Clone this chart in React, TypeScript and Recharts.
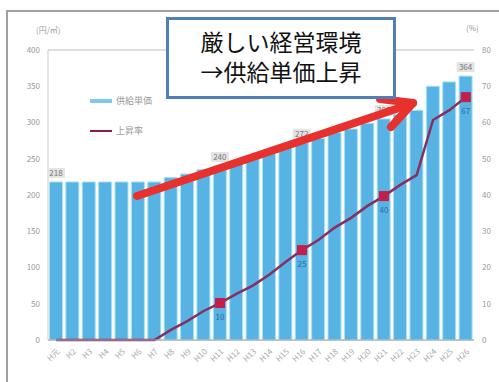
import { ComposedChart, Bar, Line, XAxis, YAxis, CartesianGrid, LabelList } from 'recharts';

const years = [
  'H元', 'H2', 'H3', 'H4', 'H5', 'H6', 'H7', 'H8', 'H9', 'H10', 'H11', 'H12', 'H13',
  'H14', 'H15', 'H16', 'H17', 'H18', 'H19', 'H20', 'H21', 'H22', 'H23', 'H24', 'H25', 'H26',
];

// 供給単価 (円/㎥)
const unitPrice = [
  218, 218, 218, 218, 218, 218, 218, 224, 229, 235, 240, 246, 251,
  257, 265, 272, 278, 286, 291, 299, 305, 311, 317, 350, 356, 364,
];

// 上昇率 (%)
const riseRate = [
  0, 0, 0, 0, 0, 0, 0, 2.8, 5.2, 8, 10.2, 12.7, 15,
  18, 21.5, 24.8, 27.6, 31, 33.7, 37, 39.7, 42.8, 45.5, 60.7, 63.4, 67,
];

// points that carry a marker and value labels
const labelled = [0, 10, 15, 20, 25];

const leftTicks = [0, 50, 100, 150, 200, 250, 300, 350, 400];
const rightTicks = [0, 10, 20, 30, 40, 50, 60, 70, 80];

const data = years.map((year, i) => ({ year, price: unitPrice[i], rate: riseRate[i] }));

const FONT = '"Noto Sans CJK JP", "Noto Sans", sans-serif';
const BAR = '#57b3e4';
const LINE = '#86305f';
const MARK = '#c41e4c';

const PriceLabel = (props: any) => {
  const { x, y, width, index, value } = props;
  if (!labelled.includes(index)) return null;
  const cx = x + width / 2;
  return (
    <g>
      <rect x={cx - 9} y={y - 14} width={18} height={10} fill="#e4e4e4" />
      <text x={cx} y={y - 6} textAnchor="middle" fontSize={8} fill="#777" fontFamily={FONT}>
        {value}
      </text>
    </g>
  );
};

const RateLabel = (props: any) => {
  const { x, y, index, value } = props;
  if (!labelled.includes(index) || index === 0) return null;
  return (
    <text x={x} y={y + 17} textAnchor="middle" fontSize={8} fill="#2f6aa8" fontFamily={FONT}>
      {Math.round(value)}
    </text>
  );
};

const RateDot = (props: any) => {
  const { cx, cy, index } = props;
  if (!labelled.includes(index) || index === 0) return <g key={`d${index}`} />;
  return <rect key={`d${index}`} x={cx - 5} y={cy - 5} width={10} height={10} fill={MARK} />;
};

export default function App() {
  return (
    <div style={{ position: 'absolute', left: 0, top: 0, width: 499, height: 382, background: '#fff', overflow: 'hidden' }}>
      <div
        style={{
          position: 'absolute', left: 6, top: 10, width: 499, height: 400,
          borderLeft: '2px solid #a0a0a0', borderTop: '2px solid #a0a0a0',
        }}
      />
      <div style={{ position: 'absolute', left: 36, top: 24, fontSize: 8, color: '#999', fontFamily: FONT }}>(円/㎥)</div>
      <div style={{ position: 'absolute', left: 466, top: 22, fontSize: 8, color: '#999', fontFamily: FONT }}>(%)</div>
      <ComposedChart
        width={499}
        height={382}
        data={data}
        margin={{ top: 50, right: 5, bottom: 0, left: 8 }}
        barCategoryGap="9%"
        style={{ position: 'absolute', left: 0, top: 0 }}
      >
        <CartesianGrid vertical={false} stroke="#d4d4d4" strokeWidth={1.5} />
        <XAxis
          dataKey="year"
          interval={0}
          height={42}
          angle={-45}
          textAnchor="end"
          tick={{ fontSize: 8, fill: '#aaa', fontFamily: FONT }}
          tickLine={false}
          axisLine={{ stroke: '#aaa' }}
        />
        <YAxis
          yAxisId="left"
          domain={[0, 400]}
          ticks={leftTicks}
          width={40}
          tick={{ fontSize: 8, fill: '#999', fontFamily: FONT }}
          tickLine={false}
          axisLine={{ stroke: '#ccc' }}
        />
        <YAxis
          yAxisId="right"
          orientation="right"
          domain={[0, 80]}
          ticks={rightTicks}
          width={20}
          tick={{ fontSize: 8, fill: '#999', fontFamily: FONT }}
          tickLine={false}
          axisLine={false}
        />
        <Bar yAxisId="left" dataKey="price" name="供給単価" fill={BAR} stroke="#a6e2f6" strokeWidth={1} isAnimationActive={false}>
          <LabelList dataKey="price" content={<PriceLabel />} />
        </Bar>
        <Line
          yAxisId="right"
          dataKey="rate"
          name="上昇率"
          stroke={LINE}
          strokeWidth={2.5}
          dot={<RateDot />}
          activeDot={false}
          isAnimationActive={false}
        >
          <LabelList dataKey="rate" content={<RateLabel />} />
        </Line>
      </ComposedChart>
      <div style={{ position: 'absolute', left: 90, top: 86, fontFamily: FONT, fontSize: 9, color: '#999', lineHeight: '30px' }}>
        <div style={{ display: 'flex', alignItems: 'center' }}>
          <span style={{ display: 'inline-block', width: 22, height: 4, background: '#7ecbe8', marginRight: 4 }} />
          供給単価
        </div>
        <div style={{ display: 'flex', alignItems: 'center' }}>
          <span style={{ display: 'inline-block', width: 22, height: 2, background: '#8b1c3c', marginRight: 4 }} />
          上昇率
        </div>
      </div>
      <svg width={499} height={382} style={{ position: 'absolute', left: 0, top: 0, pointerEvents: 'none' }}>
        <g stroke="#e8302c" strokeWidth={8} strokeLinecap="round" fill="none">
          <line x1={137} y1={196} x2={411} y2={104} />
          <line x1={380} y1={99} x2={413} y2={103} />
          <line x1={391} y1={127} x2={413} y2={103} />
        </g>
      </svg>
      <div
        style={{
          position: 'absolute', left: 166, top: 17, width: 224, height: 70,
          border: '3px solid #4f7fbb', background: '#fff', fontFamily: FONT,
          fontSize: 23, color: '#111', textAlign: 'center', lineHeight: '30px', paddingTop: 6,
          boxSizing: 'content-box',
        }}
      >
        厳しい経営環境
        <br />
        →供給単価上昇
      </div>
    </div>
  );
}
